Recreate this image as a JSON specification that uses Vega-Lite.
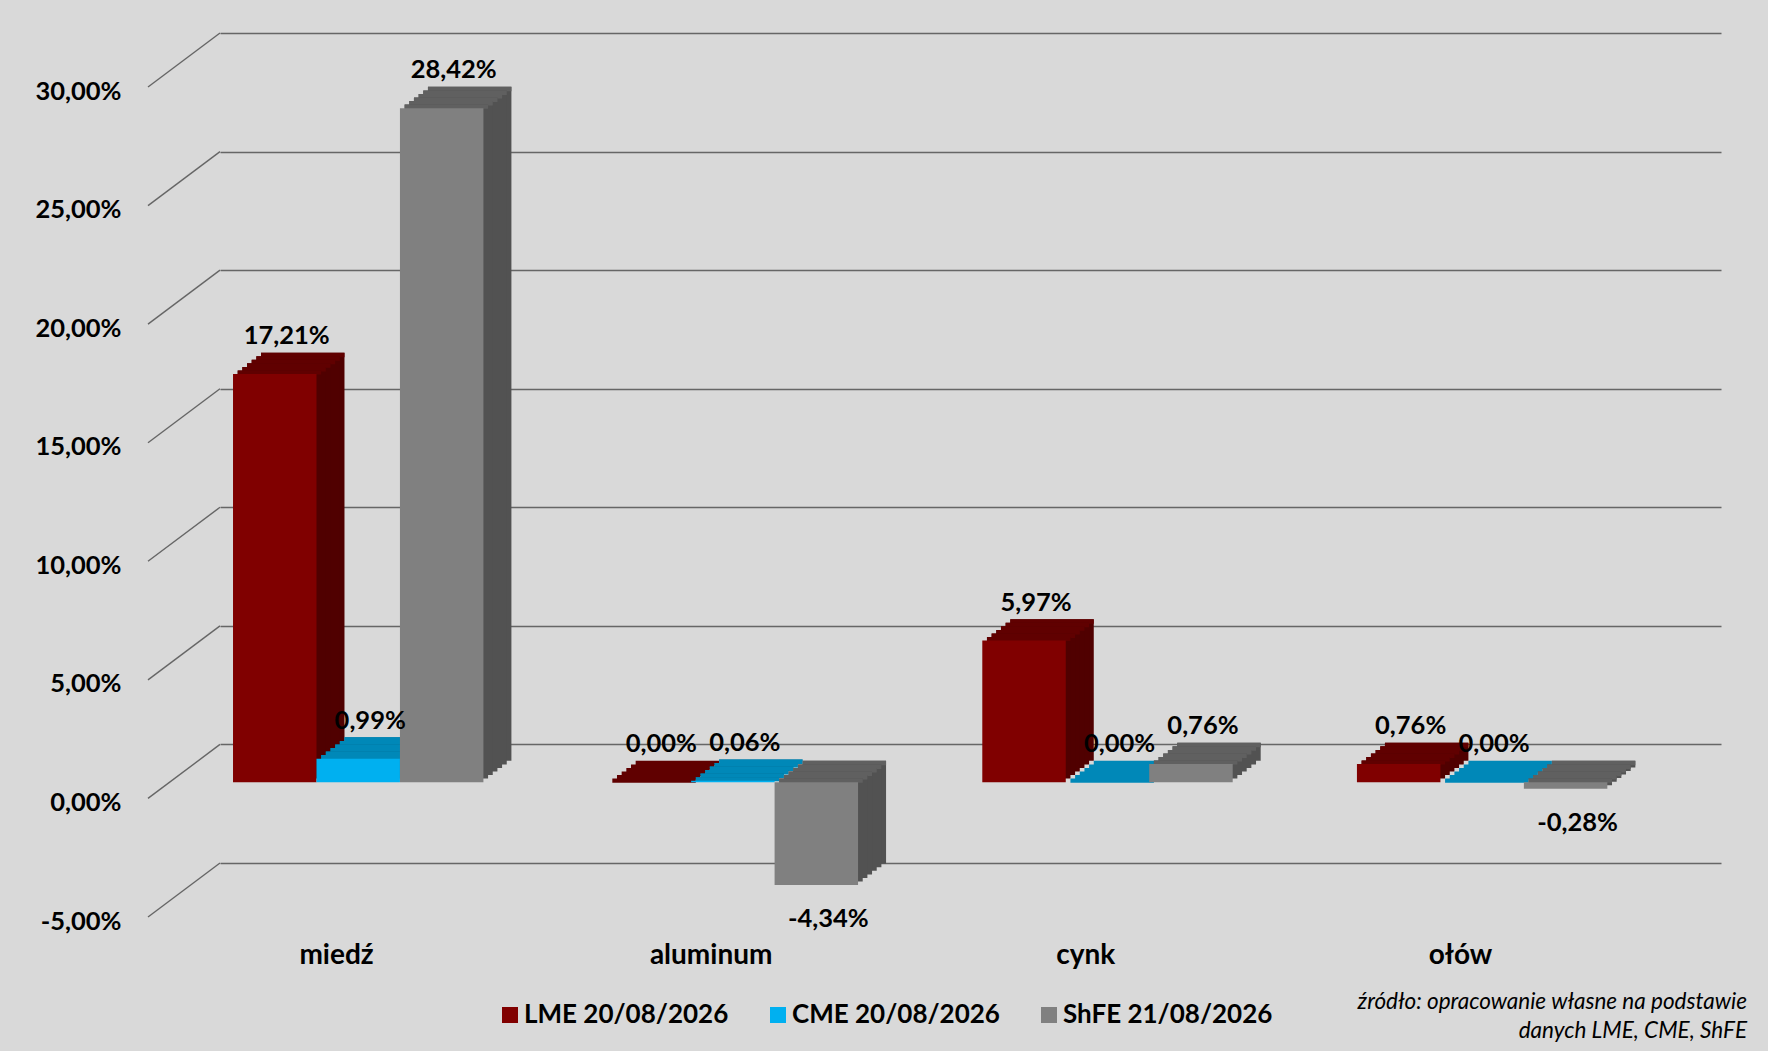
{
  "$schema": "https://vega.github.io/schema/vega-lite/v6.json",
  "width": 1501,
  "height": 830,
  "autosize": {"type": "none"},
  "padding": {"left": 220, "top": 33, "right": 47, "bottom": 188},
  "background": "#d9d9d9",
  "title": {
    "text": ["źródło: opracowanie własne na podstawie", "danych LME, CME, ShFE"],
    "orient": "bottom", "anchor": "end", "align": "right", "frame": "group",
    "font": "Lato", "fontSize": 22.5, "fontStyle": "italic", "fontWeight": "normal",
    "color": "#000000", "lineHeight": 29, "dx": 26, "offset": -37
  },
  "data": {
    "values": [
      {"metal": "miedź", "series": "LME 20/08/2026", "value": 0.1721},
      {"metal": "miedź", "series": "CME 20/08/2026", "value": 0.0099},
      {"metal": "miedź", "series": "ShFE 21/08/2026", "value": 0.2842},
      {"metal": "aluminum", "series": "LME 20/08/2026", "value": 0.0},
      {"metal": "aluminum", "series": "CME 20/08/2026", "value": 0.0006},
      {"metal": "aluminum", "series": "ShFE 21/08/2026", "value": -0.0434},
      {"metal": "cynk", "series": "LME 20/08/2026", "value": 0.0597},
      {"metal": "cynk", "series": "CME 20/08/2026", "value": 0.0},
      {"metal": "cynk", "series": "ShFE 21/08/2026", "value": 0.0076},
      {"metal": "ołów", "series": "LME 20/08/2026", "value": 0.0076},
      {"metal": "ołów", "series": "CME 20/08/2026", "value": 0.0},
      {"metal": "ołów", "series": "ShFE 21/08/2026", "value": -0.0028}
    ]
  },
  "encoding": {
    "x": {
      "field": "metal", "type": "nominal", "title": null,
      "sort": ["miedź", "aluminum", "cynk", "ołów"],
      "scale": {"paddingInner": 0.3315, "paddingOuter": 0.169},
      "axis": {
        "labelAngle": 0, "labelOffset": -72, "labelPadding": 78,
        "domain": false, "ticks": false, "labelFont": "Lato", "labelFontSize": 28,
        "labelFontWeight": "bold", "labelColor": "#000000"
      }
    },
    "y": {
      "field": "value", "type": "quantitative", "title": null,
      "scale": {"domain": [-0.05, 0.3], "nice": false, "zero": false},
      "axis": {
        "values": [-0.05, 0, 0.05, 0.1, 0.15, 0.2, 0.25, 0.3],
        "format": ".2%", "grid": true, "gridColor": "#666666", "gridWidth": 1.4,
        "domain": false, "ticks": false, "labelOffset": 58, "labelPadding": 99,
        "labelFont": "Lato", "labelFontSize": 25.5, "labelFontWeight": "bold",
        "labelColor": "#000000"
      }
    }
  },
  "layer": [
    {
      "data": {"values": [{"v": -0.05}, {"v": 0}, {"v": 0.05}, {"v": 0.1}, {"v": 0.15}, {"v": 0.2}, {"v": 0.25}, {"v": 0.3}]},
      "mark": {"type": "rule", "color": "#666666", "strokeWidth": 1.4, "y2Offset": 54},
      "encoding": {
        "x": {"value": 0},
        "x2": {"value": -72},
        "y": {"field": "v", "type": "quantitative", "title": null},
        "y2": {"field": "v"}
      }
    },
    {
      "mark": {"type": "bar", "yOffset": 16.4, "y2Offset": 16.4},
      "encoding": {
        "y2": {"datum": 0},
        "xOffset": {"field": "series", "type": "nominal", "scale": {"domain": ["LME 20/08/2026", "CME 20/08/2026", "ShFE 21/08/2026"], "range": [-22.3, 228.1], "paddingInner": 0, "paddingOuter": 0}},
        "color": {"field": "series", "type": "nominal", "scale": {"domain": ["LME 20/08/2026", "CME 20/08/2026", "ShFE 21/08/2026"], "range": ["#500000", "#006c94", "#525252"]}, "legend": null}
      }
    },
    {
      "transform": [{"filter": "datum.value >= 0"}],
      "mark": {"type": "bar", "yOffset": 16.4, "y2Offset": 20.9},
      "encoding": {
        "y2": {"field": "value"},
        "xOffset": {"field": "series", "type": "nominal", "scale": {"domain": ["LME 20/08/2026", "CME 20/08/2026", "ShFE 21/08/2026"], "range": [-22.3, 228.1], "paddingInner": 0, "paddingOuter": 0}},
        "color": {"field": "series", "type": "nominal", "scale": {"domain": ["LME 20/08/2026", "CME 20/08/2026", "ShFE 21/08/2026"], "range": ["#600000", "#0088b8", "#606060"]}, "legend": null}
      }
    },
    {
      "transform": [{"filter": "datum.value < 0"}],
      "mark": {"type": "bar", "yOffset": 16.4, "y2Offset": 20.9},
      "encoding": {
        "y": {"datum": 0, "type": "quantitative", "title": null},
        "y2": {"datum": 0},
        "xOffset": {"field": "series", "type": "nominal", "scale": {"domain": ["LME 20/08/2026", "CME 20/08/2026", "ShFE 21/08/2026"], "range": [-22.3, 228.1], "paddingInner": 0, "paddingOuter": 0}},
        "color": {"field": "series", "type": "nominal", "scale": {"domain": ["LME 20/08/2026", "CME 20/08/2026", "ShFE 21/08/2026"], "range": ["#600000", "#0088b8", "#606060"]}, "legend": null}
      }
    },
    {
      "mark": {"type": "bar", "yOffset": 19.95, "y2Offset": 19.95},
      "encoding": {
        "y2": {"datum": 0},
        "xOffset": {"field": "series", "type": "nominal", "scale": {"domain": ["LME 20/08/2026", "CME 20/08/2026", "ShFE 21/08/2026"], "range": [-26.97, 223.43], "paddingInner": 0, "paddingOuter": 0}},
        "color": {"field": "series", "type": "nominal", "scale": {"domain": ["LME 20/08/2026", "CME 20/08/2026", "ShFE 21/08/2026"], "range": ["#500000", "#006c94", "#525252"]}, "legend": null}
      }
    },
    {
      "transform": [{"filter": "datum.value >= 0"}],
      "mark": {"type": "bar", "yOffset": 19.95, "y2Offset": 24.45},
      "encoding": {
        "y2": {"field": "value"},
        "xOffset": {"field": "series", "type": "nominal", "scale": {"domain": ["LME 20/08/2026", "CME 20/08/2026", "ShFE 21/08/2026"], "range": [-26.97, 223.43], "paddingInner": 0, "paddingOuter": 0}},
        "color": {"field": "series", "type": "nominal", "scale": {"domain": ["LME 20/08/2026", "CME 20/08/2026", "ShFE 21/08/2026"], "range": ["#600000", "#0088b8", "#606060"]}, "legend": null}
      }
    },
    {
      "transform": [{"filter": "datum.value < 0"}],
      "mark": {"type": "bar", "yOffset": 19.95, "y2Offset": 24.45},
      "encoding": {
        "y": {"datum": 0, "type": "quantitative", "title": null},
        "y2": {"datum": 0},
        "xOffset": {"field": "series", "type": "nominal", "scale": {"domain": ["LME 20/08/2026", "CME 20/08/2026", "ShFE 21/08/2026"], "range": [-26.97, 223.43], "paddingInner": 0, "paddingOuter": 0}},
        "color": {"field": "series", "type": "nominal", "scale": {"domain": ["LME 20/08/2026", "CME 20/08/2026", "ShFE 21/08/2026"], "range": ["#600000", "#0088b8", "#606060"]}, "legend": null}
      }
    },
    {
      "mark": {"type": "bar", "yOffset": 23.5, "y2Offset": 23.5},
      "encoding": {
        "y2": {"datum": 0},
        "xOffset": {"field": "series", "type": "nominal", "scale": {"domain": ["LME 20/08/2026", "CME 20/08/2026", "ShFE 21/08/2026"], "range": [-31.63, 218.77], "paddingInner": 0, "paddingOuter": 0}},
        "color": {"field": "series", "type": "nominal", "scale": {"domain": ["LME 20/08/2026", "CME 20/08/2026", "ShFE 21/08/2026"], "range": ["#500000", "#006c94", "#525252"]}, "legend": null}
      }
    },
    {
      "transform": [{"filter": "datum.value >= 0"}],
      "mark": {"type": "bar", "yOffset": 23.5, "y2Offset": 28.0},
      "encoding": {
        "y2": {"field": "value"},
        "xOffset": {"field": "series", "type": "nominal", "scale": {"domain": ["LME 20/08/2026", "CME 20/08/2026", "ShFE 21/08/2026"], "range": [-31.63, 218.77], "paddingInner": 0, "paddingOuter": 0}},
        "color": {"field": "series", "type": "nominal", "scale": {"domain": ["LME 20/08/2026", "CME 20/08/2026", "ShFE 21/08/2026"], "range": ["#600000", "#0088b8", "#606060"]}, "legend": null}
      }
    },
    {
      "transform": [{"filter": "datum.value < 0"}],
      "mark": {"type": "bar", "yOffset": 23.5, "y2Offset": 28.0},
      "encoding": {
        "y": {"datum": 0, "type": "quantitative", "title": null},
        "y2": {"datum": 0},
        "xOffset": {"field": "series", "type": "nominal", "scale": {"domain": ["LME 20/08/2026", "CME 20/08/2026", "ShFE 21/08/2026"], "range": [-31.63, 218.77], "paddingInner": 0, "paddingOuter": 0}},
        "color": {"field": "series", "type": "nominal", "scale": {"domain": ["LME 20/08/2026", "CME 20/08/2026", "ShFE 21/08/2026"], "range": ["#600000", "#0088b8", "#606060"]}, "legend": null}
      }
    },
    {
      "mark": {"type": "bar", "yOffset": 27.05, "y2Offset": 27.05},
      "encoding": {
        "y2": {"datum": 0},
        "xOffset": {"field": "series", "type": "nominal", "scale": {"domain": ["LME 20/08/2026", "CME 20/08/2026", "ShFE 21/08/2026"], "range": [-36.3, 214.1], "paddingInner": 0, "paddingOuter": 0}},
        "color": {"field": "series", "type": "nominal", "scale": {"domain": ["LME 20/08/2026", "CME 20/08/2026", "ShFE 21/08/2026"], "range": ["#500000", "#006c94", "#525252"]}, "legend": null}
      }
    },
    {
      "transform": [{"filter": "datum.value >= 0"}],
      "mark": {"type": "bar", "yOffset": 27.05, "y2Offset": 31.55},
      "encoding": {
        "y2": {"field": "value"},
        "xOffset": {"field": "series", "type": "nominal", "scale": {"domain": ["LME 20/08/2026", "CME 20/08/2026", "ShFE 21/08/2026"], "range": [-36.3, 214.1], "paddingInner": 0, "paddingOuter": 0}},
        "color": {"field": "series", "type": "nominal", "scale": {"domain": ["LME 20/08/2026", "CME 20/08/2026", "ShFE 21/08/2026"], "range": ["#600000", "#0088b8", "#606060"]}, "legend": null}
      }
    },
    {
      "transform": [{"filter": "datum.value < 0"}],
      "mark": {"type": "bar", "yOffset": 27.05, "y2Offset": 31.55},
      "encoding": {
        "y": {"datum": 0, "type": "quantitative", "title": null},
        "y2": {"datum": 0},
        "xOffset": {"field": "series", "type": "nominal", "scale": {"domain": ["LME 20/08/2026", "CME 20/08/2026", "ShFE 21/08/2026"], "range": [-36.3, 214.1], "paddingInner": 0, "paddingOuter": 0}},
        "color": {"field": "series", "type": "nominal", "scale": {"domain": ["LME 20/08/2026", "CME 20/08/2026", "ShFE 21/08/2026"], "range": ["#600000", "#0088b8", "#606060"]}, "legend": null}
      }
    },
    {
      "mark": {"type": "bar", "yOffset": 30.6, "y2Offset": 30.6},
      "encoding": {
        "y2": {"datum": 0},
        "xOffset": {"field": "series", "type": "nominal", "scale": {"domain": ["LME 20/08/2026", "CME 20/08/2026", "ShFE 21/08/2026"], "range": [-40.97, 209.43], "paddingInner": 0, "paddingOuter": 0}},
        "color": {"field": "series", "type": "nominal", "scale": {"domain": ["LME 20/08/2026", "CME 20/08/2026", "ShFE 21/08/2026"], "range": ["#500000", "#006c94", "#525252"]}, "legend": null}
      }
    },
    {
      "transform": [{"filter": "datum.value >= 0"}],
      "mark": {"type": "bar", "yOffset": 30.6, "y2Offset": 35.1},
      "encoding": {
        "y2": {"field": "value"},
        "xOffset": {"field": "series", "type": "nominal", "scale": {"domain": ["LME 20/08/2026", "CME 20/08/2026", "ShFE 21/08/2026"], "range": [-40.97, 209.43], "paddingInner": 0, "paddingOuter": 0}},
        "color": {"field": "series", "type": "nominal", "scale": {"domain": ["LME 20/08/2026", "CME 20/08/2026", "ShFE 21/08/2026"], "range": ["#600000", "#0088b8", "#606060"]}, "legend": null}
      }
    },
    {
      "transform": [{"filter": "datum.value < 0"}],
      "mark": {"type": "bar", "yOffset": 30.6, "y2Offset": 35.1},
      "encoding": {
        "y": {"datum": 0, "type": "quantitative", "title": null},
        "y2": {"datum": 0},
        "xOffset": {"field": "series", "type": "nominal", "scale": {"domain": ["LME 20/08/2026", "CME 20/08/2026", "ShFE 21/08/2026"], "range": [-40.97, 209.43], "paddingInner": 0, "paddingOuter": 0}},
        "color": {"field": "series", "type": "nominal", "scale": {"domain": ["LME 20/08/2026", "CME 20/08/2026", "ShFE 21/08/2026"], "range": ["#600000", "#0088b8", "#606060"]}, "legend": null}
      }
    },
    {
      "mark": {"type": "bar", "yOffset": 34.15, "y2Offset": 34.15},
      "encoding": {
        "y2": {"datum": 0},
        "xOffset": {"field": "series", "type": "nominal", "scale": {"domain": ["LME 20/08/2026", "CME 20/08/2026", "ShFE 21/08/2026"], "range": [-45.63, 204.77], "paddingInner": 0, "paddingOuter": 0}},
        "color": {"field": "series", "type": "nominal", "scale": {"domain": ["LME 20/08/2026", "CME 20/08/2026", "ShFE 21/08/2026"], "range": ["#500000", "#006c94", "#525252"]}, "legend": null}
      }
    },
    {
      "transform": [{"filter": "datum.value >= 0"}],
      "mark": {"type": "bar", "yOffset": 34.15, "y2Offset": 38.2},
      "encoding": {
        "y2": {"field": "value"},
        "xOffset": {"field": "series", "type": "nominal", "scale": {"domain": ["LME 20/08/2026", "CME 20/08/2026", "ShFE 21/08/2026"], "range": [-45.63, 204.77], "paddingInner": 0, "paddingOuter": 0}},
        "color": {"field": "series", "type": "nominal", "scale": {"domain": ["LME 20/08/2026", "CME 20/08/2026", "ShFE 21/08/2026"], "range": ["#600000", "#0088b8", "#606060"]}, "legend": null}
      }
    },
    {
      "transform": [{"filter": "datum.value < 0"}],
      "mark": {"type": "bar", "yOffset": 34.15, "y2Offset": 38.2},
      "encoding": {
        "y": {"datum": 0, "type": "quantitative", "title": null},
        "y2": {"datum": 0},
        "xOffset": {"field": "series", "type": "nominal", "scale": {"domain": ["LME 20/08/2026", "CME 20/08/2026", "ShFE 21/08/2026"], "range": [-45.63, 204.77], "paddingInner": 0, "paddingOuter": 0}},
        "color": {"field": "series", "type": "nominal", "scale": {"domain": ["LME 20/08/2026", "CME 20/08/2026", "ShFE 21/08/2026"], "range": ["#600000", "#0088b8", "#606060"]}, "legend": null}
      }
    },
    {
      "mark": {"type": "bar", "yOffset": 37.7, "y2Offset": 37.7},
      "encoding": {
        "y2": {"datum": 0},
        "xOffset": {"field": "series", "type": "nominal", "scale": {"domain": ["LME 20/08/2026", "CME 20/08/2026", "ShFE 21/08/2026"], "range": [-50.3, 200.1], "paddingInner": 0, "paddingOuter": 0}},
        "color": {
          "field": "series", "type": "nominal",
          "scale": {"domain": ["LME 20/08/2026", "CME 20/08/2026", "ShFE 21/08/2026"], "range": ["#800000", "#00b0f0", "#808080"]},
          "legend": {
            "orient": "none", "legendX": 277, "legendY": 969, "direction": "horizontal",
            "title": null, "symbolType": "square", "symbolSize": 256, "symbolStrokeWidth": 0,
            "labelFont": "Lato", "labelFontSize": 26, "labelFontWeight": "bold", "labelLimit": 500,
            "labelColor": "#000000", "labelOffset": 1, "columnPadding": 36
          }
        }
      }
    },
    {
      "transform": [{"filter": "datum.value >= 0"}],
      "mark": {"type": "text", "font": "Lato", "fontSize": 25.5, "fontWeight": "bold", "color": "#000000", "baseline": "middle", "dx": 12, "dy": 0},
      "encoding": {
        "xOffset": {"field": "series", "type": "nominal", "scale": {"type": "band", "domain": ["LME 20/08/2026", "CME 20/08/2026", "ShFE 21/08/2026"], "range": [-50.3, 200.1], "paddingInner": 0, "paddingOuter": 0}},
        "text": {"field": "value", "type": "quantitative", "format": ".2%"}
      }
    },
    {
      "transform": [{"filter": "datum.value < 0"}],
      "mark": {"type": "text", "font": "Lato", "fontSize": 25.5, "fontWeight": "bold", "color": "#000000", "baseline": "middle", "dx": 12, "dy": 72},
      "encoding": {
        "xOffset": {"field": "series", "type": "nominal", "scale": {"type": "band", "domain": ["LME 20/08/2026", "CME 20/08/2026", "ShFE 21/08/2026"], "range": [-50.3, 200.1], "paddingInner": 0, "paddingOuter": 0}},
        "text": {"field": "value", "type": "quantitative", "format": ".2%"}
      }
    }
  ],
  "resolve": {"scale": {"color": "independent", "xOffset": "independent"}},
  "config": {
    "view": {"stroke": null},
    "locale": {
      "number": {"decimal": ",", "thousands": " ", "grouping": [3], "currency": ["", " zł"], "minus": "-"}
    }
  }
}
